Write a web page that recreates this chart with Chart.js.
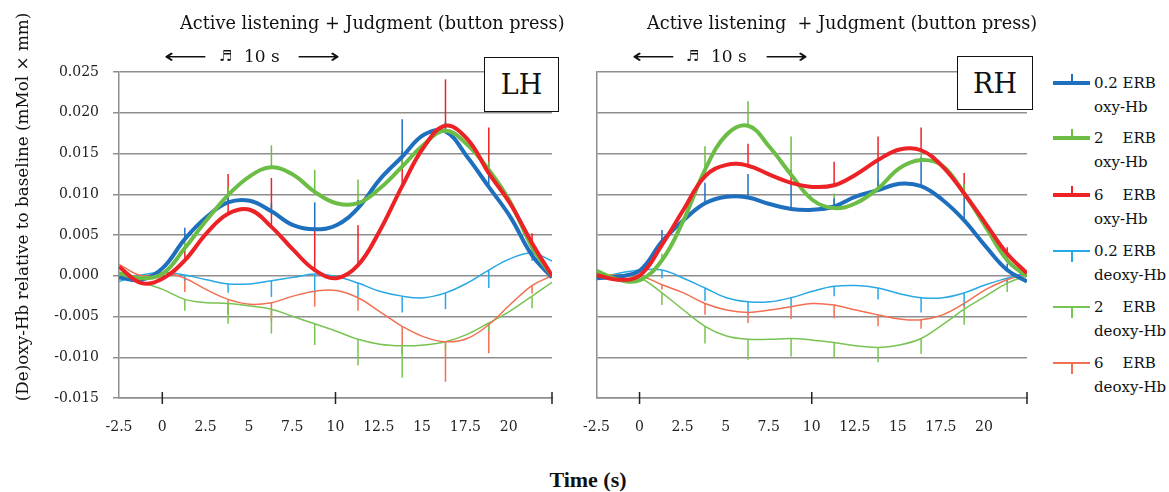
<!DOCTYPE html>
<html>
<head>
<meta charset="utf-8">
<script src="https://cdn.jsdelivr.net/npm/chart.js@4.4.1/dist/chart.umd.min.js"></script>
<style>
  body { margin: 0; width: 1169px; height: 492px; background: #fff; position: relative; overflow: hidden; font-family: 'DejaVu Serif', serif; color: #111; }
  canvas { position: absolute; top: 0; }
  .t { position: absolute; white-space: pre; line-height: 1; }
  .title { font-size: 17.7px; top: 15px; }
  .arrow { font-family: 'DejaVu Sans', sans-serif; font-size: 20px; top: 46px; transform: scaleX(1.5); transform-origin: left center; }
  .note { font-family: 'DejaVu Sans', sans-serif; font-size: 15px; top: 49px; }
  .ten { font-size: 17px; top: 48px; }
  .box { position: absolute; border: 1.5px solid #111; background: #fff; font-size: 27px; display: flex; align-items: center; justify-content: center; z-index: 2; }
  .ytitle { position: absolute; left: -178px; top: 197px; width: 400px; text-align: center; font-size: 16.8px; transform: rotate(-90deg); white-space: nowrap; }
  .xtitle { position: absolute; left: 530px; top: 467px; width: 116px; text-align: center; font-family: 'Liberation Serif', serif; font-weight: bold; font-size: 22px; }
  .leg { position: absolute; left: 1053px; font-size: 15px; }
  .leg .ln { position: absolute; left: 0; width: 37px; }
  .leg .tk { position: absolute; left: 18px; }
  .leg .tx { position: absolute; left: 41px; white-space: pre; line-height: 24px; top: -12px; }
</style>
</head>
<body>
<canvas id="left" width="565" height="440" style="left:0"></canvas>
<canvas id="right" width="470" height="440" style="left:570px"></canvas>

<div class="t title" style="left:180px">Active listening + Judgment (button press)</div>
<div class="t arrow" style="left:164px">⟵</div>
<div class="t note" style="left:219px">♬</div>
<div class="t ten" style="left:244px">10 s</div>
<div class="t arrow" style="left:297px">⟶</div>
<div class="box" style="left:484px; top:57px; width:73px; height:53px">LH</div>

<div class="t title" style="left:647px">Active listening  + Judgment (button press)</div>
<div class="t arrow" style="left:632px">⟵</div>
<div class="t note" style="left:686px">♬</div>
<div class="t ten" style="left:711px">10 s</div>
<div class="t arrow" style="left:765px">⟶</div>
<div class="box" style="left:957px; top:56px; width:74px; height:52px">RH</div>

<div class="ytitle">(De)oxy-Hb relative to baseline (mMol × mm)</div>
<div class="xtitle">Time (s)</div>

<div id="legend"></div>

<script>
// time axis (s); error bars sit on every second sample
const TIME = [-2.5, -1.2, 0.05, 1.3, 2.55, 3.8, 5.05, 6.3, 7.55, 8.8, 10.05, 11.3, 12.55, 13.85, 15.1, 16.35, 17.6, 18.85, 20.1, 21.35, 22.5];
const BAR_IDX = [3, 5, 7, 9, 11, 13, 15, 17, 19];
const X_MIN = -2.5;
const X_MAX = 22.5;
const X_MARKS = [0, 10, 22.5];
const Y_MIN = -0.015;
const Y_MAX = 0.025;

const SERIES_NAMES = ['0.2 ERB\noxy-Hb', '2    ERB\noxy-Hb', '6    ERB\noxy-Hb', '0.2 ERB\ndeoxy-Hb', '2    ERB\ndeoxy-Hb', '6    ERB\ndeoxy-Hb'];

// LH
const L_OXY_02 = [-0.0002, -0.0005, 0.001, 0.0045, 0.0072, 0.009, 0.0092, 0.0079, 0.0062, 0.0057, 0.0062, 0.0083, 0.0118, 0.0146, 0.0173, 0.0177, 0.0146, 0.0109, 0.0072, 0.0025, -0.0002];
const L_OXY_2 = [0.0003, -0.0003, 0.0003, 0.0034, 0.0068, 0.0099, 0.0122, 0.0133, 0.0124, 0.0103, 0.0089, 0.0089, 0.0107, 0.0134, 0.0161, 0.0178, 0.0161, 0.013, 0.009, 0.0035, 0];
const L_OXY_6 = [0.0011, -0.0009, -0.0003, 0.0019, 0.0052, 0.0076, 0.0081, 0.006, 0.0032, 0.0007, -0.0003, 0.0013, 0.0055, 0.011, 0.0158, 0.0184, 0.0168, 0.0126, 0.0088, 0.004, 0];
const L_DEOXY_02 = [-0.0007, 0.0001, 0.0004, 0.0001, -0.0005, -0.001, -0.001, -0.0006, -0.0002, 0.0002, -0.0001, -0.0009, -0.0019, -0.0025, -0.0027, -0.0021, -0.0009, 0.0007, 0.0021, 0.0028, 0.0018];
const L_DEOXY_2 = [0.001, -0.0007, -0.0017, -0.0029, -0.0033, -0.0034, -0.0037, -0.0041, -0.005, -0.0059, -0.0068, -0.0078, -0.0084, -0.0086, -0.0085, -0.0081, -0.0072, -0.0058, -0.0043, -0.0025, -0.0008];
const L_DEOXY_6 = [0.0014, 0, 0.0004, -0.0003, -0.0017, -0.0029, -0.0035, -0.0033, -0.0025, -0.0019, -0.0018, -0.0027, -0.0044, -0.0062, -0.0075, -0.0081, -0.0077, -0.006, -0.0035, -0.0012, 0];
const L_ERR_OXY_02 = [0.0014, 0.0008, 0.001, 0.0033, 0.001, 0.0046, 0.0012, 0.0015, 0.0008];
const L_ERR_OXY_2 = [0.0008, 0.001, 0.0027, 0.0027, 0.0029, 0.0015, 0.001, 0.001, 0.0008];
const L_ERR_OXY_6 = [0.0015, 0.0049, 0.006, 0.005, 0.0049, 0.0043, 0.0057, 0.0056, 0.0012];
const L_ERR_DEOXY_02 = [0.0007, 0.0011, 0.002, 0.0023, 0.0017, 0.002, 0.002, 0.0022, 0.001];
const L_ERR_DEOXY_2 = [0.0014, 0.0025, 0.003, 0.0026, 0.0032, 0.0039, 0.001, 0.001, 0.0015];
const L_ERR_DEOXY_6 = [0.0017, 0.0018, 0.0023, 0.0019, 0.0016, 0.0034, 0.0049, 0.0035, 0.001];

// RH
const R_OXY_02 = [-0.0003, -0.0001, 0.0007, 0.0042, 0.0068, 0.0089, 0.0097, 0.0096, 0.0088, 0.0082, 0.0081, 0.0085, 0.0097, 0.0105, 0.0113, 0.011, 0.0093, 0.0068, 0.0036, 0.0007, -0.0007];
const R_OXY_2 = [0.0006, -0.0005, -0.0005, 0.0019, 0.0068, 0.013, 0.0173, 0.0184, 0.0158, 0.0124, 0.0093, 0.0083, 0.0089, 0.0107, 0.0132, 0.0142, 0.0135, 0.0101, 0.006, 0.0019, -0.0001];
const R_OXY_6 = [0.0001, -0.0005, 0.0001, 0.0038, 0.0081, 0.0122, 0.0136, 0.0135, 0.0124, 0.0114, 0.0109, 0.0111, 0.0124, 0.0142, 0.0155, 0.0154, 0.0134, 0.0101, 0.0064, 0.0027, 0.0003];
const R_DEOXY_02 = [-0.0004, 0.0003, 0.0007, 0.0007, -0.0003, -0.0015, -0.0027, -0.0032, -0.0032, -0.0027, -0.0019, -0.0013, -0.0012, -0.0015, -0.0022, -0.0027, -0.0027, -0.0021, -0.0011, -0.0003, 0.0004];
const R_DEOXY_2 = [-0.0001, 0.0001, -0.0003, -0.0021, -0.0042, -0.0062, -0.0074, -0.0078, -0.0078, -0.0077, -0.0079, -0.0082, -0.0086, -0.0088, -0.0085, -0.0077, -0.006, -0.0041, -0.0025, -0.0009, 0];
const R_DEOXY_6 = [0, 0.0001, 0, -0.0011, -0.0021, -0.0034, -0.0042, -0.0045, -0.0042, -0.0038, -0.0034, -0.0036, -0.0042, -0.0048, -0.0053, -0.0054, -0.0048, -0.0034, -0.0017, -0.0005, 0.0002];
const R_ERR_OXY_02 = [0.0014, 0.0025, 0.0029, 0.0033, 0.001, 0.0037, 0.0035, 0.003, 0.0008];
const R_ERR_OXY_2 = [0.0008, 0.0029, 0.003, 0.0047, 0.0018, 0.001, 0.001, 0.0012, 0.0008];
const R_ERR_OXY_6 = [0.0008, 0.001, 0.0027, 0.0016, 0.0029, 0.0029, 0.0028, 0.0025, 0.0008];
const R_ERR_DEOXY_02 = [0.001, 0.0016, 0.0014, 0.001, 0.0012, 0.0014, 0.0018, 0.0016, 0.0006];
const R_ERR_DEOXY_2 = [0.0015, 0.0021, 0.0025, 0.0022, 0.0019, 0.0018, 0.0019, 0.0019, 0.0011];
const R_ERR_DEOXY_6 = [0.0006, 0.0014, 0.0013, 0.0015, 0.0016, 0.0014, 0.0011, 0.0006, 0.0006];

const COLORS = ['#1f6fbf', '#6cbd45', '#ec2227', '#29a8e6', '#78c452', '#f36f52'];
const WIDTHS = [4, 4, 4, 1.5, 1.5, 1.5];
const GRID = '#8e8e8e';
const TICK_FONT = { family: 'DejaVu Serif', size: 14 };

function makeSet(label, values, err, i) {
  return {
    label,
    data: TIME.map((t, k) => ({ x: t, y: values[k] })),
    err,
    dir: i < 3 ? 1 : -1,
    borderColor: COLORS[i],
    borderWidth: WIDTHS[i],
    pointRadius: 0,
    tension: 0.4,
    fill: false
  };
}

// one-sided error bars: up for oxy, down for deoxy
const errorBars = {
  id: 'errorBars',
  beforeDatasetsDraw(chart) {
    const ctx = chart.ctx;
    const y = chart.scales.y;
    chart.data.datasets.forEach((d, di) => {
      const meta = chart.getDatasetMeta(di);
      ctx.save();
      ctx.strokeStyle = d.borderColor;
      ctx.lineWidth = 1.5;
      BAR_IDX.forEach((pi, k) => {
        const pt = meta.data[pi];
        const end = y.getPixelForValue(d.data[pi].y + d.dir * d.err[k]);
        ctx.beginPath();
        ctx.moveTo(pt.x, y.getPixelForValue(d.data[pi].y));
        ctx.lineTo(pt.x, end);
        ctx.stroke();
      });
      ctx.restore();
    });
  }
};

// short tick marks crossing the time axis
const axisMarks = {
  id: 'axisMarks',
  afterDatasetsDraw(chart) {
    const ctx = chart.ctx;
    const x = chart.scales.x;
    const b = chart.chartArea.bottom;
    ctx.save();
    ctx.strokeStyle = '#222';
    ctx.lineWidth = 1.5;
    X_MARKS.forEach(v => {
      const px = x.getPixelForValue(v);
      ctx.beginPath();
      ctx.moveTo(px, b - 6);
      ctx.lineTo(px, b + 6);
      ctx.stroke();
    });
    ctx.restore();
  }
};

function makeChart(id, sets, showY, yWidth, padRight) {
  // oxy first so the thick lines end up on top
  return new Chart(document.getElementById(id), {
    type: 'line',
    data: { datasets: sets },
    options: {
      responsive: false,
      animation: false,
      devicePixelRatio: 1,
      layout: { padding: { top: 72, right: padRight, bottom: 0, left: 0 } },
      plugins: { legend: { display: false }, tooltip: { enabled: false } },
      scales: {
        x: {
          type: 'linear',
          min: X_MIN,
          max: X_MAX,
          grid: { display: false },
          border: { color: GRID, width: 1.5 },
          ticks: {
            stepSize: 2.5,
            autoSkip: false,
            maxRotation: 0,
            padding: 13,
            color: '#222',
            font: TICK_FONT,
            callback: v => (v > 21 ? '' : String(v))
          },
          afterFit: s => { s.height = 42; }
        },
        y: {
          min: Y_MIN,
          max: Y_MAX,
          grid: { color: GRID, lineWidth: 1.5, tickLength: 6, drawTicks: showY },
          border: { color: GRID, width: 1.5 },
          ticks: {
            display: showY,
            stepSize: 0.005,
            padding: 14,
            color: '#222',
            font: TICK_FONT,
            callback: v => v.toFixed(3)
          },
          afterFit: s => { s.width = yWidth; }
        }
      }
    },
    plugins: [errorBars, axisMarks]
  });
}

const leftSets = [
  makeSet(SERIES_NAMES[2], L_OXY_6, L_ERR_OXY_6, 2),
  makeSet(SERIES_NAMES[1], L_OXY_2, L_ERR_OXY_2, 1),
  makeSet(SERIES_NAMES[0], L_OXY_02, L_ERR_OXY_02, 0),
  makeSet(SERIES_NAMES[5], L_DEOXY_6, L_ERR_DEOXY_6, 5),
  makeSet(SERIES_NAMES[4], L_DEOXY_2, L_ERR_DEOXY_2, 4),
  makeSet(SERIES_NAMES[3], L_DEOXY_02, L_ERR_DEOXY_02, 3)
];
const rightSets = [
  makeSet(SERIES_NAMES[2], R_OXY_6, R_ERR_OXY_6, 2),
  makeSet(SERIES_NAMES[1], R_OXY_2, R_ERR_OXY_2, 1),
  makeSet(SERIES_NAMES[0], R_OXY_02, R_ERR_OXY_02, 0),
  makeSet(SERIES_NAMES[5], R_DEOXY_6, R_ERR_DEOXY_6, 5),
  makeSet(SERIES_NAMES[4], R_DEOXY_2, R_ERR_DEOXY_2, 4),
  makeSet(SERIES_NAMES[3], R_DEOXY_02, R_ERR_DEOXY_02, 3)
];

makeChart('left', leftSets, true, 119, 6);
makeChart('right', rightSets, false, 23, 8);

// legend on the right
const legend = document.getElementById('legend');
const LEG_TOP = [83, 138, 195, 251, 307, 363];
SERIES_NAMES.forEach((name, i) => {
  const item = document.createElement('div');
  item.className = 'leg';
  item.style.top = LEG_TOP[i] + 'px';
  const w = WIDTHS[i] > 2 ? 4 : 2;
  const tickUp = i < 3;
  item.innerHTML =
    `<div class="ln" style="top:${-w / 2}px;height:${w}px;background:${COLORS[i]}"></div>` +
    `<div class="tk" style="top:${tickUp ? -9 : 0}px;height:${tickUp ? 9 : 11}px;width:2px;background:${COLORS[i]}"></div>` +
    `<div class="tx">${name.replace('\n', '<br>')}</div>`;
  legend.appendChild(item);
});
</script>
</body>
</html>
